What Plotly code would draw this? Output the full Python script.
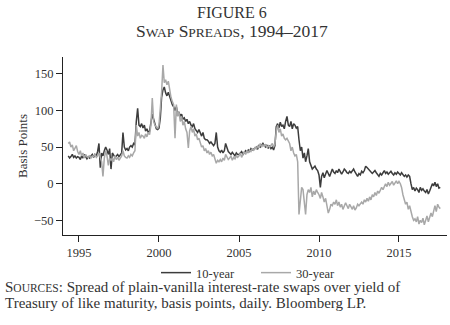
import pandas as pd
import plotly.graph_objects as go

# Monthly samples, May 1994 .. Aug 2017 (basis points)
ten_year = [
    # 1994 (May-Dec)
    38, 35, 37, 40, 36, 38, 35, 37,
    # 1995
    36, 33, 38, 35, 40, 36, 34, 37, 35, 38, 40, 36,
    # 1996
    40, 38, 44, 55, 22, 42, 38, 45, 50, 46, 40, 48,
    # 1997
    20, 42, 38, 36, 38, 40, 37, 39, 42, 70, 50, 46,
    # 1998
    48, 45, 50, 52, 50, 55, 53, 85, 103, 80, 78, 82,
    # 1999
    76, 80, 72, 75, 70, 72, 85, 95, 88, 80, 75, 74,
    # 2000
    76, 90, 118, 128, 132, 124, 120, 125, 118, 115, 108, 105,
    # 2001
    100, 105, 96, 98, 92, 95, 88, 90, 85, 88, 82, 85,
    # 2002
    80, 78, 82, 75, 72, 70, 74, 68, 65, 70, 62, 60,
    # 2003
    60, 58, 55, 57, 54, 52, 55, 70, 50, 45, 43, 46,
    # 2004
    42, 45, 55, 48, 44, 42, 40, 43, 41, 38, 42, 40,
    # 2005
    40, 42, 44, 40, 42, 45, 43, 46, 44, 48, 46, 47,
    # 2006
    48, 50, 47, 52, 50, 53, 55, 52, 50, 53, 48, 52,
    # 2007
    48, 50, 46, 52, 78, 82, 76, 84, 78, 80, 75, 85,
    # 2008
    92, 80, 78, 85, 75, 82, 80, 76, 78, 60, 45, 50,
    # 2009
    35, 42, 30, 38, 48, 30, 25, 20, 22, 24, 20, 18,
    # 2010
    12, -5, 10, 15, 8, 12, 18, 14, 10, 15, 20, 16,
    # 2011
    14, 18, 15, 20, 17, 13, 16, 20, 18, 15, 14, 17,
    # 2012
    15, 18, 20, 16, 12, 10, 14, 12, 17, 15, 18, 24,
    # 2013
    22, 20, 18, 15, 14, 16, 18, 15, 13, 10, 14, 12,
    # 2014
    15, 18, 14, 16, 13, 15, 17, 14, 12, 15, 13, 16,
    # 2015
    14, 12, 15, 13, 10, 12, 9, 12, 10, 0, -8, -5,
    # 2016
    -10, -6, -8, -12, -5, -9, -7, -10, -12, -8, -14, -10,
    # 2017 (Jan-Aug)
    -5, 0, -3, 2, -4, 0, -6, -5,
]

thirty_year = [
    # 1994 (May-Dec)
    55, 57, 50, 53, 45, 48, 52, 44,
    # 1995
    40, 45, 38, 42, 35, 40, 37, 36, 38, 35, 38, 37,
    # 1996
    40, 36, 38, 42, 35, 30, 10, 35, 45, 38, 25, 35,
    # 1997
    32, 35, 30, 38, 33, 36, 32, 35, 38, 45, 38, 36,
    # 1998
    35, 38, 36, 40, 38, 42, 45, 80, 65, 70, 62, 66,
    # 1999
    65, 62, 68, 64, 70, 67, 80, 117, 85, 80, 78, 75,
    # 2000
    80, 100, 125, 162, 138, 142, 135, 140, 125, 118, 112, 108,
    # 2001
    62, 108, 92, 98, 85, 92, 80, 85, 75, 70, 49, 72,
    # 2002
    78, 70, 75, 65, 68, 60, 62, 55, 50, 52, 45, 48,
    # 2003
    42, 45, 40, 43, 38, 40, 35, 28, 32, 30, 33, 30,
    # 2004
    35, 32, 40, 36, 33, 35, 38, 32, 36, 34, 38, 36,
    # 2005
    38, 42, 36, 40, 44, 40, 45, 42, 46, 44, 48, 45,
    # 2006
    50, 47, 52, 49, 55, 50, 53, 51, 54, 49, 52, 50,
    # 2007
    52, 55, 50, 54, 72, 80, 70, 75, 65, 68, 62, 60,
    # 2008
    62, 58, 55, 45, 50, 42, 38, 40, 30, -42, -20, -5,
    # 2009
    -8, -30, -42, -15, -8, -12, -5, -18, -10, -15, -8, -12,
    # 2010
    -15, -20, -12, -18, -25, -20, -28, -40, -35, -28, -30, -25,
    # 2011
    -28, -22, -30, -25, -32, -28, -35, -30, -26, -30, -34, -28,
    # 2012
    -32, -35, -30, -36, -33, -28, -30, -27, -25, -28, -22, -25,
    # 2013
    -20, -24, -18, -22, -15, -18, -12, -16, -10, -13, -8, -5,
    # 2014
    -8, -3, 0, -4, 2, -2, 0, 3, -2, 1, 4, 0,
    # 2015
    3, 0, -5, -15, -20, -28, -25, -35, -30, -40, -45, -50,
    # 2016
    -48, -52, -45, -55, -50, -53, -47, -56, -50, -44, -52, -46,
    # 2017 (Jan-Aug)
    -40, -45, -35, -30, -38, -28, -32, -34,
]

tick_years = [1995, 2000, 2005, 2010, 2015]
tick_labels = [str(y) for y in tick_years]

dates_10 = pd.date_range("1994-05-01", periods=len(ten_year), freq="MS")
dates_30 = pd.date_range("1994-05-01", periods=len(thirty_year), freq="MS")

SERIF = "Liberation Serif"
DARK = "#3c3c3c"
GREY = "#a8a8a8"

fig = go.Figure()
fig.add_trace(go.Scatter(x=dates_10, y=ten_year, mode="lines", name="10-year",
                         line=dict(color=DARK, width=1.5)))
fig.add_trace(go.Scatter(x=dates_30, y=thirty_year, mode="lines", name="30-year",
                         line=dict(color=GREY, width=1.5)))

sc = lambda s, size=11: f"<span style='font-size:{size}px'>{s}</span>"

PH = 178.0  # plot height in px
PW = 384.0  # plot width in px
py = lambda ypx: (235 - ypx) / PH
px = lambda xpx: (xpx - 63) / PW

fig.update_layout(
    width=450, height=325,
    margin=dict(l=63, r=3, t=57, b=90),
    paper_bgcolor="white", plot_bgcolor="white",
    font=dict(family=SERIF, size=12, color="#333"),
    showlegend=True,
    legend=dict(orientation="h", x=px(256), xanchor="center", y=py(273), yanchor="middle",
                font=dict(family=SERIF, size=12.5, color="#333"),
                entrywidth=55, entrywidthmode="pixels",
                bgcolor="rgba(0,0,0,0)"),
    xaxis=dict(
        range=["1994-01-01", "2018-01-01"],
        tickvals=[f"{y}-01-01" for y in tick_years], ticktext=tick_labels,
        showgrid=False, zeroline=False,
        showline=True, linecolor="#222", linewidth=1,
        ticks="outside", ticklen=6, tickcolor="#222",
        tickfont=dict(family=SERIF, size=12.5, color="#333"),
    ),
    yaxis=dict(
        range=[-70, 173],
        tickvals=[-50, 0, 50, 100, 150], ticktext=["\u221250", "0", "50", "100", "150"],
        showgrid=False, zeroline=False,
        showline=True, linecolor="#222", linewidth=1,
        ticks="outside", ticklen=6, tickcolor="#222",
        tickfont=dict(family=SERIF, size=12.5, color="#333"),
        title=dict(text="Basis Points", font=dict(family=SERIF, size=13, color="#333"), standoff=3),
    ),
)

fig.add_annotation(text="FIGURE 6", xref="paper", yref="paper",
                   x=px(232), y=py(12.5), xanchor="center", yanchor="middle",
                   showarrow=False, font=dict(family=SERIF, size=16, color="#333"))
fig.add_annotation(text="S" + sc("WAP", 13.5) + " S" + sc("PREADS", 13.5) + ", 1994\u20132017",
                   xref="paper", yref="paper",
                   x=px(232), y=py(31), xanchor="center", yanchor="middle",
                   showarrow=False, font=dict(family=SERIF, size=17.5, color="#333"))
fig.add_annotation(text="S" + sc("OURCES", 11.5) + ": Spread of plain-vanilla interest-rate swaps over yield of",
                   xref="paper", yref="paper", align="left",
                   x=px(3), y=py(287), xanchor="left", yanchor="middle",
                   showarrow=False, font=dict(family=SERIF, size=15, color="#333"))
fig.add_annotation(text="Treasury of like maturity, basis points, daily. Bloomberg LP.",
                   xref="paper", yref="paper", align="left",
                   x=px(3), y=py(302.5), xanchor="left", yanchor="middle",
                   showarrow=False, font=dict(family=SERIF, size=15, color="#333"))

fig.write_html("out.html")
